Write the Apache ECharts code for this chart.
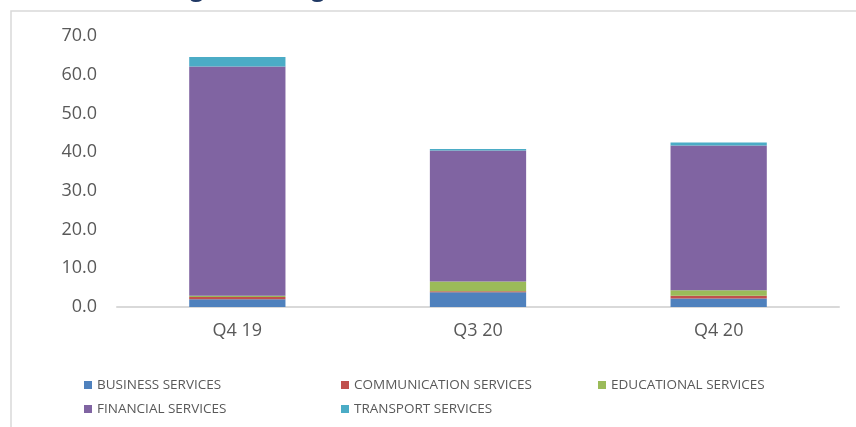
<!DOCTYPE html>
<html>
<head>
<meta charset="utf-8">
<script src="https://cdn.jsdelivr.net/npm/echarts@6/dist/echarts.min.js"></script>
<style>
html, body { margin: 0; padding: 0; background: #fff; }
#main { width: 856px; height: 427px; }
</style>
</head>
<body>
<div id="main"></div>
<script>
// 季度分类
var quarters = ['Q4 19', 'Q3 20', 'Q4 20'];
// 各行业数值
var business = [2.0, 3.8, 2.2];
var communication = [0.6, 0.3, 0.7];
var educational = [0.3, 2.5, 1.4];
var financial = [59.2, 33.8, 37.4];
var transport = [2.5, 0.4, 0.8];
var seriesNames = ['BUSINESS SERVICES', 'COMMUNICATION SERVICES', 'EDUCATIONAL SERVICES', 'FINANCIAL SERVICES', 'TRANSPORT SERVICES'];
var seriesColors = ['#4F81BD', '#C0504D', '#9BBB59', '#8064A2', '#4BACC6'];

var myChart = echarts.init(document.getElementById('main'));

var allData = [business, communication, educational, financial, transport];
var series = [];
for (var i = 0; i < allData.length; i++) {
	series.push({
		name: seriesNames[i],
		type: 'bar',
		stack: 'total',
		barWidth: '40%',
		itemStyle: { color: seriesColors[i] },
		data: allData[i]
	});
}

var option = {
	textStyle: { fontFamily: 'Open Sans' },
	title: {
		text: 'Foreign Exchange Remittances (Q4 2019 - Q4 2020)',
		left: 'center',
		top: -28,
		textStyle: { color: '#1F3864', fontSize: 24, fontWeight: 'bold' }
	},
	graphic: [{
		type: 'rect',
		shape: { x: 11, y: 11, width: 900, height: 500 },
		style: { fill: 'none', stroke: '#d9d9d9', lineWidth: 1.5 },
		silent: true
	}],
	//图例
	legend: {
		data: seriesNames,
		left: 84,
		top: 378,
		width: 770,
		padding: 0,
		itemWidth: 8,
		itemHeight: 8,
		itemGap: 10,
		icon: 'rect',
		textStyle: { color: '#595959', fontSize: 13.5, width: 234, lineHeight: 14 }
	},
	grid: {
		left: 117,
		right: 17,
		top: 36,
		bottom: 120
	},
	xAxis: {
		type: 'category',
		data: quarters,
		axisTick: { show: false },
		axisLine: { lineStyle: { color: '#d9d9d9', width: 2 } },
		axisLabel: { color: '#595959', fontSize: 18, margin: 15 }
	},
	yAxis: {
		type: 'value',
		min: 0,
		max: 70,
		interval: 10,
		splitLine: { show: false },
		axisLine: { show: false },
		axisTick: { show: false },
		axisLabel: {
			color: '#595959',
			fontSize: 18,
			margin: 20,
			formatter: function (v) { return v.toFixed(1); }
		}
	},
	series: series
};

myChart.setOption(option);
</script>
</body>
</html>
